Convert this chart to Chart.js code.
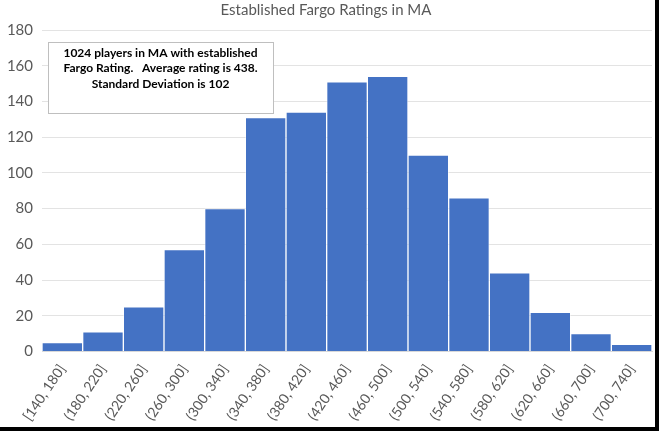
<!DOCTYPE html>
<html>
<head>
<meta charset="utf-8">
<script src="https://cdn.jsdelivr.net/npm/chart.js@4"></script>
<style>
  html, body { margin: 0; padding: 0; background: #000; }
  #wrap { position: absolute; left: 0; top: 0; width: 655px; height: 427px; background: #fff; }
</style>
</head>
<body>
<div id="wrap"><canvas id="fargoChart"></canvas></div>
<script>
// histogram bins and counts
const binLabels = ['[140, 180]', '(180, 220]', '(220, 260]', '(260, 300]', '(300, 340]',
    '(340, 380]', '(380, 420]', '(420, 460]', '(460, 500]', '(500, 540]',
    '(540, 580]', '(580, 620]', '(620, 660]', '(660, 700]', '(700, 740]'];
const playerCounts = [5, 11, 25, 57, 80, 131, 134, 151, 154, 110, 86, 44, 22, 10, 4];
const noteLines = ['1024 players in MA with established',
    'Fargo Rating.   Average rating is 438.',
    'Standard Deviation is 102'];

const fontFamily = 'Lato, "Open Sans", sans-serif';

// text box in the upper left of the plot
const noteBox = {
    id: 'noteBox',
    afterDraw(chart) {
        const c = chart.ctx;
        const x = 48, y = 42, w = 225, h = 71;
        c.save();
        c.fillStyle = '#fff';
        c.fillRect(x, y, w, h);
        c.strokeStyle = '#bfbfbf';
        c.lineWidth = 1;
        c.strokeRect(x + 0.5, y + 0.5, w, h);
        c.fillStyle = '#000';
        c.font = 'bold 12px ' + fontFamily;
        c.textAlign = 'center';
        c.textBaseline = 'middle';
        noteLines.forEach((line, i) => {
            c.fillText(line, x + w / 2, y + 11 + i * 15.5);
        });
        c.restore();
    }
};

const ctx = document.getElementById('fargoChart').getContext('2d');
new Chart(ctx, {
    type: 'bar',
    data: {
        labels: binLabels,
        datasets: [{
            data: playerCounts,
            backgroundColor: '#4472c4',
            borderColor: 'rgba(255,255,255,0.45)',
            borderWidth: 1,
            categoryPercentage: 1.0,
            barPercentage: 1.0
        }]
    },
    options: {
        responsive: true,
        maintainAspectRatio: false,
        animation: false,
        layout: { padding: { left: 0, right: 3, top: 0, bottom: 1 } },
        plugins: {
            legend: { display: false },
            tooltip: { enabled: false },
            title: {
                display: true,
                text: 'Established Fargo Ratings in MA',
                color: '#595959',
                font: { family: fontFamily, size: 15, weight: 'normal' },
                padding: { top: 1, bottom: 11 }
            }
        },
        scales: {
            x: {
                grid: { display: false },
                border: { color: '#d9d9d9' },
                ticks: {
                    color: '#595959',
                    font: { family: fontFamily, size: 14 },
                    minRotation: 56,
                    maxRotation: 56,
                    padding: 2
                }
            },
            y: {
                min: 0,
                max: 180,
                afterFit(scale) { scale.width = 42; },
                grid: { color: '#e3e3e3', drawTicks: false },
                border: { display: false },
                ticks: {
                    stepSize: 20,
                    color: '#595959',
                    font: { family: fontFamily, size: 15 },
                    padding: 9
                }
            }
        }
    },
    plugins: [noteBox]
});
</script>
</body>
</html>
